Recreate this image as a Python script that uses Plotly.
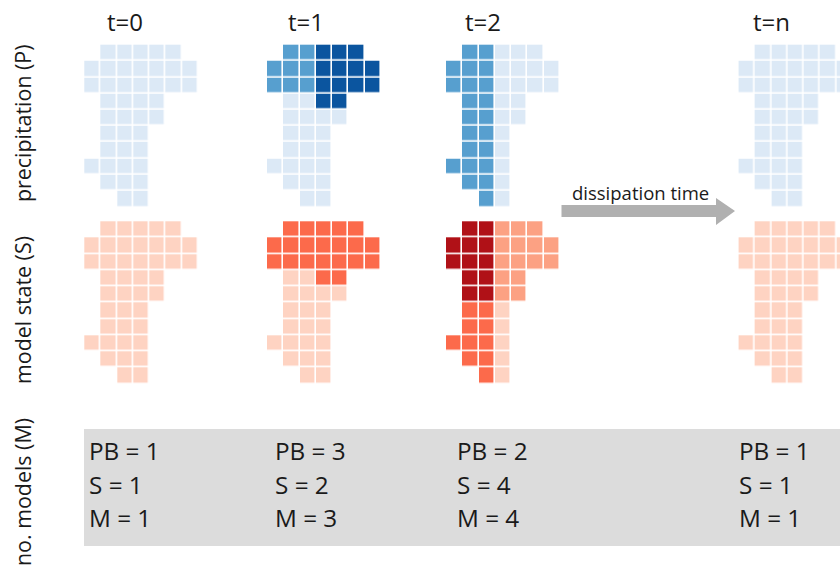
import plotly.graph_objects as go

N = None

# cell levels per time step, rows top to bottom
P_t0 = [
    [N,1,1,1,1,1,N],
    [1,1,1,1,1,1,1],
    [1,1,1,1,1,1,1],
    [N,1,1,1,1,N,N],
    [N,1,1,1,1,N,N],
    [N,1,1,1,N,N,N],
    [N,1,1,1,N,N,N],
    [1,1,1,1,N,N,N],
    [N,1,1,1,N,N,N],
    [N,N,1,1,N,N,N],
]
P_t1 = [
    [N,2,2,3,3,3,N],
    [2,2,2,3,3,3,3],
    [2,2,2,3,3,3,3],
    [N,1,1,3,3,N,N],
    [N,1,1,1,1,N,N],
    [N,1,1,1,N,N,N],
    [N,1,1,1,N,N,N],
    [1,1,1,1,N,N,N],
    [N,1,1,1,N,N,N],
    [N,N,1,1,N,N,N],
]
P_t2 = [
    [N,2,2,1,1,1,N],
    [2,2,2,1,1,1,1],
    [2,2,2,1,1,1,1],
    [N,2,2,1,1,N,N],
    [N,2,2,1,1,N,N],
    [N,2,2,1,N,N,N],
    [N,2,2,1,N,N,N],
    [2,2,2,1,N,N,N],
    [N,2,2,1,N,N,N],
    [N,N,2,1,N,N,N],
]
S_t0 = P_t0
S_t1 = [
    [N,3,3,3,3,3,N],
    [3,3,3,3,3,3,3],
    [3,3,3,3,3,3,3],
    [N,1,1,3,3,N,N],
    [N,1,1,1,1,N,N],
    [N,1,1,1,N,N,N],
    [N,1,1,1,N,N,N],
    [1,1,1,1,N,N,N],
    [N,1,1,1,N,N,N],
    [N,N,1,1,N,N,N],
]
S_t2 = [
    [N,4,4,2,2,2,N],
    [4,4,4,2,2,2,2],
    [4,4,4,2,2,2,2],
    [N,4,4,2,2,N,N],
    [N,4,4,2,2,N,N],
    [N,3,3,1,N,N,N],
    [N,3,3,1,N,N,N],
    [3,3,3,1,N,N,N],
    [N,3,3,1,N,N,N],
    [N,N,3,1,N,N,N],
]

time_labels = ['t=0','t=1','t=2','t=n']
row_labels = ['precipitation (P)','model state (S)','no. models (M)']
pb_vals = [1,3,2,1]
s_vals = [1,2,4,1]
m_vals = [1,3,4,1]

blues = ['#dce9f6','#579fcf','#0b559f']
reds = ['#fed3c2','#fca183','#fc6a4b','#b01117']

panel_x = [84.3,267,446,738.6]
panel_lab_x = [124.5,306,483,771]
text_x = [87,272.5,454.5,737]
P_y = 44.7
S_y = 221.3
cell = 16.25

def scale(cols):
    n = len(cols)
    out = []
    for i,c in enumerate(cols):
        out.append([i/n,c])
        out.append([(i+1)/n,c])
    return out

def grid(z,x0,y0,cols):
    return go.Heatmap(
        z=z,x0=x0+cell/2,dx=cell,y0=y0+cell/2,dy=cell,
        zmin=0.5,zmax=len(cols)+0.5,
        colorscale=scale(cols),showscale=False,
        xgap=1.6,ygap=1.6,hoverongaps=False)

fig = go.Figure()

pL = [P_t0,P_t1,P_t2,P_t0]
sL = [S_t0,S_t1,S_t2,S_t0]
for i in range(4):
    fig.add_trace(grid(pL[i],panel_x[i],P_y,blues))
    fig.add_trace(grid(sL[i],panel_x[i],S_y,reds))

font = 'Open Sans'
col = '#1a1a1a'
annL = []
for i,t in enumerate(time_labels):
    annL.append(dict(x=panel_lab_x[i],y=21,text=t,font=dict(family=font,size=24,color=col)))
    for y,txt in [(450,'PB = %d'%pb_vals[i]),(484,'S = %d'%s_vals[i]),(517,'M = %d'%m_vals[i])]:
        annL.append(dict(x=text_x[i],y=y,text=txt,xanchor='left',font=dict(family=font,size=24.3,color=col)))
for y,txt in zip([123,310,492],row_labels):
    annL.append(dict(x=22,y=y,text=txt,textangle=-90,font=dict(family=font,size=21.4,color=col)))
annL.append(dict(x=640.5,y=192.5,text='dissipation time',font=dict(family=font,size=18.5,color=col)))
for a in annL:
    a.update(xref='x',yref='y',showarrow=False)

fig.update_layout(
    width=840,height=566,
    margin=dict(l=0,r=0,t=0,b=0),
    paper_bgcolor='white',plot_bgcolor='white',
    annotations=annL,
    shapes=[
        dict(type='rect',xref='x',yref='y',x0=84,x1=840,y0=429,y1=546,
             fillcolor='#dcdcdc',line_width=0,layer='below'),
        dict(type='path',xref='x',yref='y',
             path='M561.5,205 L716,205 L716,198 L735,211 L716,225 L716,217 L561.5,217 Z',
             fillcolor='#b0b0b0',line_width=0),
    ],
    xaxis=dict(range=[0,840],visible=False,fixedrange=True),
    yaxis=dict(range=[566,0],visible=False,fixedrange=True),
)

fig.write_html("out.html",config={'displayModeBar':False},
               post_script="document.body.style.margin='0';")
